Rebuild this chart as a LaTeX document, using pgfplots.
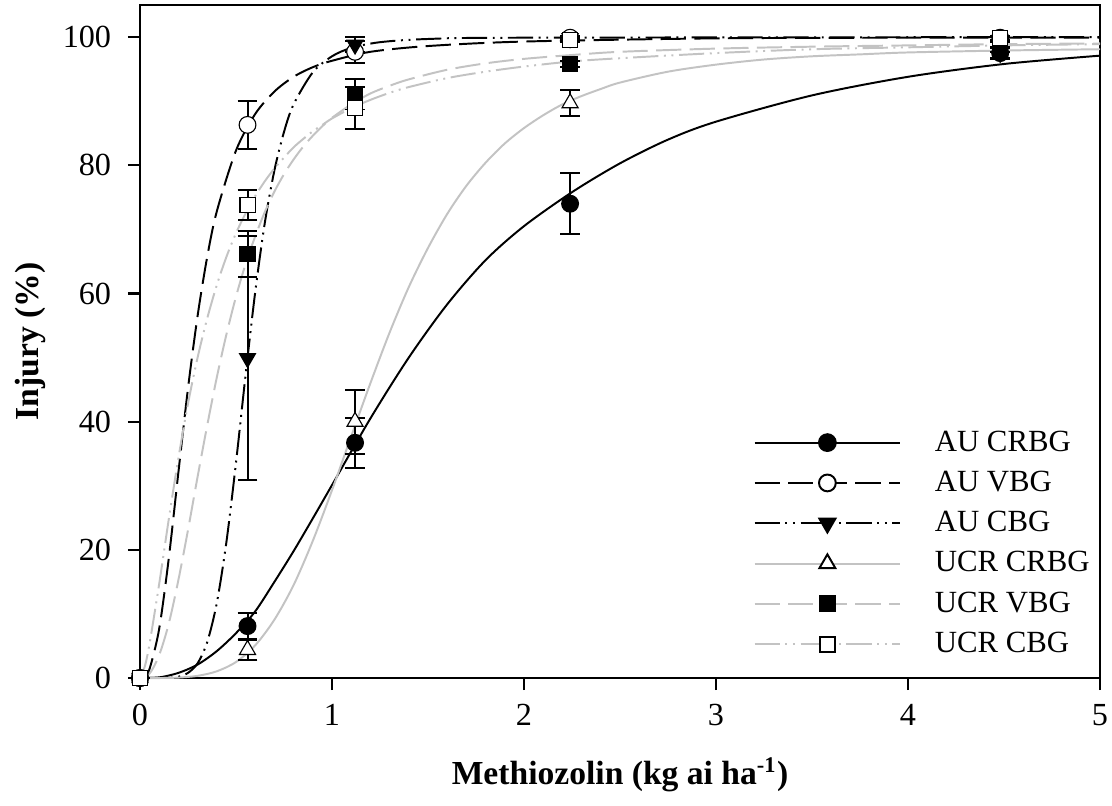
\documentclass[border=0pt]{standalone}
\usepackage{fontspec}
\setmainfont{Liberation Serif}
\usepackage{pgfplots}
\pgfplotsset{compat=1.18}
\definecolor{lgray}{RGB}{195,195,195}

\tikzset{
  dsh/.style={dash pattern=on 9pt off 3pt},
  ddot/.style={dash pattern=on 9pt off 2pt on 0.7pt off 2pt on 0.7pt off 2pt},
}

\begin{document}
\begin{tikzpicture}
\begin{axis}[
  width=342.86pt, height=240.36pt, scale only axis,
  xmin=0, xmax=5, ymin=0, ymax=105,
  xtick={0,1,2,3,4,5}, ytick={0,20,40,60,80,100},
  tick pos=left, tick align=outside,
  major tick length=4.3pt,
  axis line style={line width=0.8pt},
  every tick/.style={black, line width=0.8pt},
  tick label style={font=\fontsize{11.5}{13}\selectfont},
  yticklabel style={xshift=-2.5pt},
  xticklabel style={yshift=-1.5pt},
  /pgf/number format/assume math mode=true,
  every axis y label/.style={at={(axis description cs:-0.1146,0.5)}, rotate=90, anchor=center},
  every axis x label/.style={at={(axis description cs:0.5,-0.144)}, anchor=center},
  xlabel={\fontsize{12}{14}\selectfont\bfseries Methiozolin (kg ai ha\textsuperscript{-1})},
  ylabel={\fontsize{12}{14}\selectfont\bfseries Injury (\%)},
  clip=false,
  legend image code/.code={\draw[mark repeat=2,mark phase=2] plot coordinates {(0pt,0pt) (26pt,0pt) (52pt,0pt)};},
  legend style={at={(axis cs:3.193,39)}, anchor=north west, draw=none, fill=none,
    inner sep=0pt, font=\fontsize{11}{13}\selectfont, row sep=4.4pt,
    nodes={inner ysep=0pt, text height=8pt, text depth=2pt},
    /tikz/every odd column/.append style={column sep=10pt}},
  legend cell align=left,
  errbar/.style={error bars/.cd, y dir=both, y explicit,
    error bar style={black, line width=0.7pt},
    error mark options={black, line width=0.7pt, mark size=3.5pt, rotate=90}},
]

% fitted curves
\addplot[black, line width=0.7pt, smooth, forget plot] coordinates {
 (0,0) (0.1,0.1) (0.2,0.8) (0.3,2.1) (0.4,4.2) (0.5,7.0) (0.6,10.4) (0.7,15.0)
 (0.8,19.8) (0.9,24.9) (1.0,30.1) (1.2,40.5) (1.4,50.0) (1.6,58.3) (1.8,65.2)
 (2.0,70.5) (2.25,75.8) (2.5,80.3) (2.75,84.0) (3.0,86.8) (3.5,90.9) (4.0,93.8)
 (4.5,95.8) (5.0,97.1)};
\addplot[black, line width=0.7pt, dsh, smooth, forget plot] coordinates {
 (0,0) (0.02,0.15) (0.05,1.45) (0.1,7.7) (0.15,18.7) (0.2,32.1) (0.25,45.2)
 (0.3,56.5) (0.35,65.7) (0.4,72.8) (0.5,82.3) (0.6,88.0) (0.7,91.5) (0.8,93.8)
 (0.9,95.3) (1.0,96.3) (1.2,97.7) (1.5,98.6) (2.0,99.3) (3.0,99.8) (4.0,99.9) (5.0,99.9)};
\addplot[black, line width=0.7pt, ddot, smooth, forget plot] coordinates {
 (0,0) (0.15,0.05) (0.2,0.2) (0.25,0.8) (0.3,2.3) (0.35,5.6) (0.4,11.7) (0.45,21.2)
 (0.5,33.6) (0.55,47.3) (0.6,60.2) (0.65,71.0) (0.7,79.2) (0.75,85.2) (0.8,89.5)
 (0.9,94.5) (1.0,97.0) (1.1,98.3) (1.25,99.2) (1.5,99.7) (2.0,99.9) (5.0,100)};
\addplot[lgray, line width=0.7pt, smooth, forget plot] coordinates {
 (0,0) (0.1,0) (0.2,0.07) (0.3,0.34) (0.4,1.05) (0.5,2.5) (0.6,5.1) (0.7,9.1)
 (0.8,14.5) (0.9,21.4) (1.0,29.3) (1.1,37.7) (1.2,46.0) (1.3,53.9) (1.4,61.0)
 (1.5,67.1) (1.6,72.4) (1.7,76.8) (1.8,80.4) (1.9,83.4) (2.0,85.8) (2.1,87.8)
 (2.2,89.5) (2.3,90.8) (2.4,91.9) (2.5,92.9) (2.75,94.6) (3.0,95.7) (3.25,96.5)
 (3.5,97.0) (3.75,97.3) (4.0,97.6) (4.5,97.9) (5.0,98.1)};
\addplot[lgray, line width=0.7pt, dsh, smooth, forget plot] coordinates {
 (0,0) (0.05,0.7) (0.1,3.6) (0.15,8.5) (0.2,15.3) (0.25,23.1) (0.3,31.4) (0.35,39.4)
 (0.4,46.9) (0.45,53.6) (0.5,59.5) (0.55,64.6) (0.6,68.9) (0.65,72.7) (0.7,75.9)
 (0.75,78.6) (0.8,80.9) (0.85,82.9) (0.9,84.6) (0.95,86.1) (1.0,87.4) (1.1,89.5)
 (1.2,91.2) (1.3,92.4) (1.4,93.4) (1.6,94.9) (1.8,95.9) (2.0,96.6) (2.25,97.2)
 (2.5,97.7) (3.0,98.2) (3.5,98.5) (4.0,98.7) (4.5,98.9) (5.0,99.0)};
\addplot[lgray, line width=0.7pt, ddot, smooth, forget plot] coordinates {
 (0,0) (0.025,1.8) (0.05,5.4) (0.1,14.7) (0.15,24.8) (0.2,34.3) (0.25,42.8) (0.3,50.0)
 (0.35,56.1) (0.4,61.3) (0.45,65.7) (0.5,69.4) (0.55,72.5) (0.6,75.2) (0.65,77.5)
 (0.7,79.5) (0.75,81.2) (0.8,82.8) (0.85,84.1) (0.9,85.3) (0.95,86.3) (1.0,87.3)
 (1.1,88.9) (1.2,90.2) (1.3,91.3) (1.4,92.2) (1.6,93.6) (1.8,94.6) (2.0,95.4)
 (2.25,96.2) (2.5,96.7) (3.0,97.5) (3.5,98.1) (4.0,98.4) (4.5,98.7) (5.0,98.9)};

% observed means with error bars
\addplot[forget plot, only marks, mark=*, mark size=3pt, mark options={draw=black, fill=black}, errbar]
 coordinates {(0,0) +- (0,0) (0.56,8.1) +- (0,2.0) (1.12,36.7) +- (0,3.9) (2.24,74.0) +- (0,4.75) (4.48,97.5) +- (0,0.8)};
\addplot[forget plot, only marks, mark=*, mark size=3pt, mark options={draw=black, fill=white}, errbar]
 coordinates {(0,0) +- (0,0) (0.56,86.3) +- (0,3.7) (1.12,97.7) +- (0,1.7) (2.24,99.9) +- (0,0.3) (4.48,99.9) +- (0,0.3)};
\addplot[forget plot, only marks, mark=triangle*, mark size=3.3pt, mark options={draw=black, fill=black, rotate=180}, errbar]
 coordinates {(0,0) +- (0,0) (0.56,49.9) +- (0,19.0) (1.12,98.8) +- (0,1.2) (2.24,99.8) +- (0,0.3) (4.48,97.5) +- (0,1.0)};
\addplot[forget plot, only marks, mark=triangle*, mark size=3.3pt, mark options={draw=black, fill=white}, errbar]
 coordinates {(0,0) +- (0,0) (0.56,4.4) +- (0,1.6) (1.12,40.0) +- (0,5.0) (2.24,89.7) +- (0,2.0) (4.48,98.5) +- (0,0.8)};
\addplot[forget plot, only marks, mark=square*, mark size=2.7pt, mark options={draw=black, fill=black}, errbar]
 coordinates {(0,0) +- (0,0) (0.56,66.2) +- (0,3.6) (1.12,91.1) +- (0,2.4) (2.24,95.8) +- (0,0.5) (4.48,99.0) +- (0,0.5)};
\addplot[forget plot, only marks, mark=square*, mark size=2.7pt, mark options={draw=black, fill=white}, errbar]
 coordinates {(0,0) +- (0,0) (0.56,73.8) +- (0,2.3) (1.12,88.9) +- (0,3.3) (2.24,99.6) +- (0,0.3) (4.48,99.8) +- (0,0.3)};

% legend
\addlegendimage{black, line width=0.7pt, mark=*, mark size=3pt, mark options={solid, fill=black}}
\addlegendentry{AU CRBG}
\addlegendimage{black, line width=0.7pt, dsh, mark=*, mark size=3pt, mark options={solid, fill=white}}
\addlegendentry{AU VBG}
\addlegendimage{black, line width=0.7pt, ddot, mark=triangle*, mark size=3.3pt, mark options={solid, fill=black, rotate=180}}
\addlegendentry{AU CBG}
\addlegendimage{lgray, line width=0.7pt, mark=triangle*, mark size=3.3pt, mark options={solid, draw=black, fill=white}}
\addlegendentry{UCR CRBG}
\addlegendimage{lgray, line width=0.7pt, dsh, mark=square*, mark size=2.7pt, mark options={solid, draw=black, fill=black}}
\addlegendentry{UCR VBG}
\addlegendimage{lgray, line width=0.7pt, ddot, mark=square*, mark size=2.7pt, mark options={solid, draw=black, fill=white}}
\addlegendentry{UCR CBG}
\end{axis}
\pgfresetboundingbox
\path[use as bounding box] ([xshift=-50pt,yshift=-45.36pt]current axis.south west) rectangle ([xshift=4.29pt,yshift=1.79pt]current axis.north east);
\end{tikzpicture}
\end{document}
